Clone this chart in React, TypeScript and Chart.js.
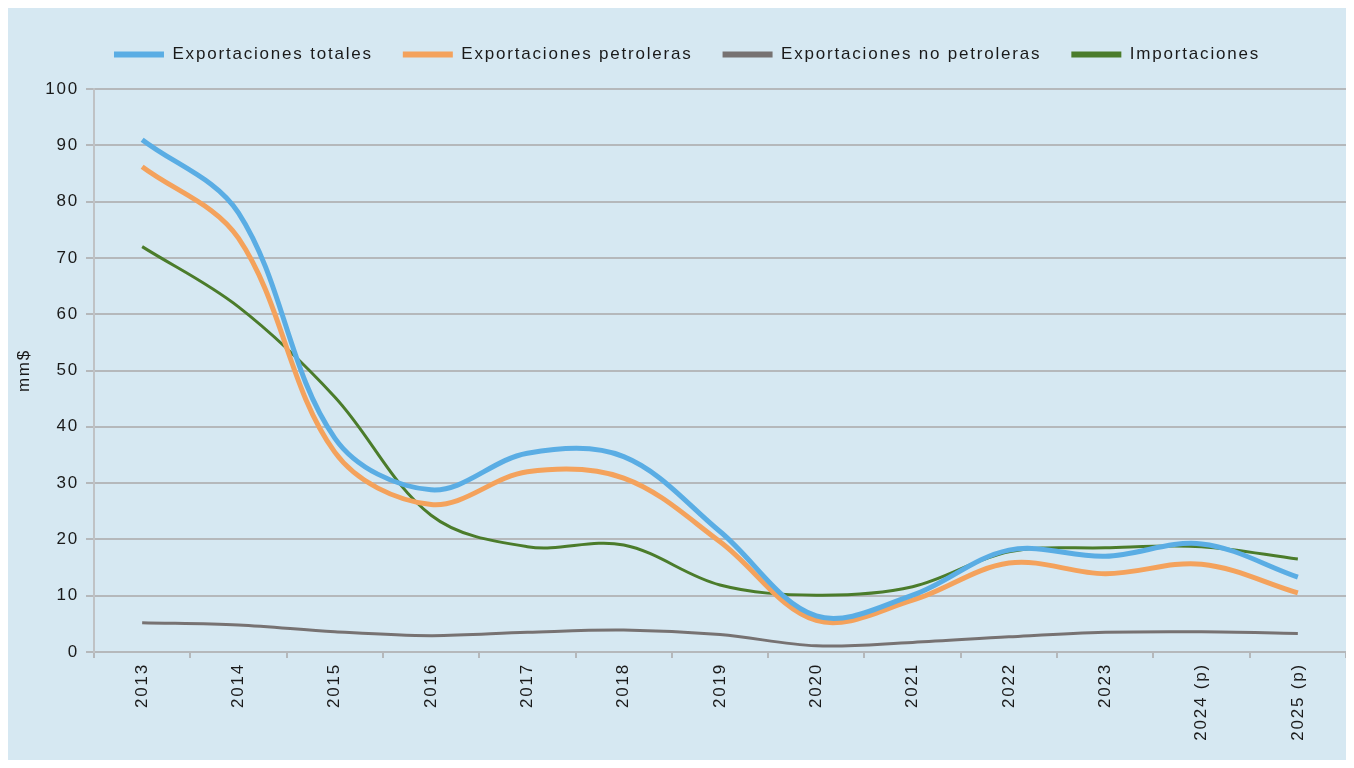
import React, { useEffect, useRef } from "react";
import { Chart, registerables } from "chart.js";

Chart.register(...registerables);

const categories = ["2013", "2014", "2015", "2016", "2017", "2018", "2019", "2020", "2021", "2022", "2023", "2024 (p)", "2025 (p)"];
const exportacionesTotales = [91, 78, 38, 28.8, 35.3, 34.7, 21.4, 6.4, 10.1, 18.1, 17.0, 19.2, 13.3];
const exportacionesPetroleras = [86.2, 73.5, 35.5, 26.2, 32, 30.9, 19.6, 5.6, 9.2, 15.8, 13.9, 15.6, 10.5];
const exportacionesNoPetroleras = [5.2, 4.8, 3.6, 2.9, 3.5, 3.9, 3.1, 1.1, 1.7, 2.7, 3.5, 3.6, 3.3];
const importaciones = [72, 61.3, 45.3, 24.3, 18.7, 19.0, 11.9, 10.1, 11.6, 17.8, 18.5, 18.7, 16.5];
const seriesNames = ["Exportaciones totales", "Exportaciones petroleras", "Exportaciones no petroleras", "Importaciones"];
const yTicks = { min: 0, max: 100, step: 10 };
const yTitle = "mm$";

const FONT = "'Liberation Sans', Arial, sans-serif";
const SPACING = "1.8px";

const spacingPlugin = {
  id: "letterSpacing",
  beforeUpdate(chart: any) {
    (chart.ctx as any).letterSpacing = SPACING;
    const lg = chart.legend;
    if (lg && !lg._patched) {
      const orig = lg.fit.bind(lg);
      lg.fit = () => {
        orig();
        lg.height += 16;
      };
      lg._patched = true;
    }
  },
  beforeDraw(chart: any) {
    (chart.ctx as any).letterSpacing = SPACING;
  },
};

export default function App() {
  const ref = useRef<HTMLCanvasElement | null>(null);
  useEffect(() => {
    if (!ref.current) return;
    const mk = (label: string, data: number[], color: string, width: number) => ({
      label,
      data,
      borderColor: color,
      backgroundColor: color,
      borderWidth: width,
      pointRadius: 0,
      tension: 0.35,
      fill: false,
    });
    const chart = new Chart(ref.current, {
      type: "line",
      data: {
        labels: categories,
        datasets: [
          mk(seriesNames[0], exportacionesTotales, "#5aade4", 5),
          mk(seriesNames[1], exportacionesPetroleras, "#f4a25c", 5),
          mk(seriesNames[2], exportacionesNoPetroleras, "#777272", 3),
          mk(seriesNames[3], importaciones, "#4b7c2b", 3),
        ],
      },
      plugins: [spacingPlugin],
      options: {
        animation: false,
        responsive: false,
        maintainAspectRatio: false,
        layout: { padding: { top: 8, left: 20, right: 0, bottom: 0 } },
        plugins: {
          tooltip: { enabled: false },
          legend: {
            position: "top",
            labels: {
              boxWidth: 50,
              boxHeight: 6,
              padding: 30,
              color: "#1a1a1a",
              font: { family: FONT, size: 17 },
              generateLabels: (c: any) =>
                Chart.defaults.plugins.legend.labels.generateLabels(c).map((it: any) => ({
                  ...it,
                  lineWidth: 0,
                })),
            },
          },
        },
        scales: {
          x: {
            offset: true,
            grid: {
              offset: true,
              drawOnChartArea: false,
              drawTicks: true,
              tickLength: 6,
              color: "#b5b8bb",
              lineWidth: 2,
            },
            border: { display: true, color: "#b5b8bb", width: 2 },
            ticks: {
              minRotation: 90,
              maxRotation: 90,
              autoSkip: false,
              padding: 5,
              color: "#1a1a1a",
              font: { family: FONT, size: 17 },
            },
            afterFit: (s: any) => {
              s.height = 108;
            },
          },
          y: {
            min: yTicks.min,
            max: yTicks.max,
            ticks: {
              stepSize: yTicks.step,
              padding: 7,
              color: "#1a1a1a",
              font: { family: FONT, size: 17 },
            },
            grid: {
              color: "#b5b8bb",
              lineWidth: 2,
              drawTicks: true,
              tickLength: 8,
            },
            border: { display: true, color: "#bfc2c5", width: 2 },
            title: {
              display: true,
              text: yTitle,
              color: "#1a1a1a",
              font: { family: FONT, size: 17 },
              padding: { top: -14, bottom: 0 },
            },
            afterFit: (s: any) => {
              s.width = 66;
            },
          },
        },
      },
    });
    return () => chart.destroy();
  }, []);
  return (
    <div style={{ width: 1338, height: 752, background: "#d6e8f2" }}>
      <canvas ref={ref} width={1338} height={752} style={{ display: "block" }} />
    </div>
  );
}
